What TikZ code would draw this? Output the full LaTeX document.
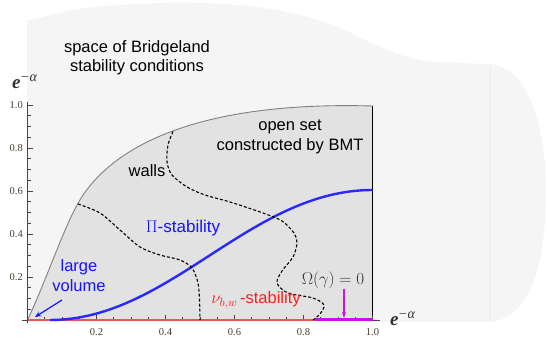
\documentclass[tikz,border=0pt]{standalone}
\usepackage{fix-cm}
\usepackage{fontspec}
\newfontfamily\sansf{Liberation Sans}
\newfontfamily\tickf{Liberation Serif}
\usetikzlibrary{arrows.meta}
\definecolor{blobgray}{RGB}{245,245,245}
\definecolor{seamgray}{RGB}{240,240,240}
\definecolor{regiongray}{RGB}{226,226,226}
\definecolor{bdgray}{RGB}{128,128,128}
\definecolor{axgray}{RGB}{70,70,70}
\definecolor{ticklab}{RGB}{75,62,45}
\definecolor{pblue}{RGB}{40,40,255}
\definecolor{tblue}{RGB}{20,20,255}
\definecolor{tred}{RGB}{255,30,30}
\definecolor{lred}{RGB}{225,90,90}
\definecolor{pmag}{RGB}{200,20,230}
\definecolor{mathgray}{RGB}{50,50,50}
\newcommand{\expalpha}{{\tickf\bfseries\itshape\fontsize{19}{20}\selectfont e}\raisebox{7.5pt}{\tickf\itshape\fontsize{14}{15}\selectfont \kern-0.5pt−α}}
\begin{document}
\begin{tikzpicture}[x=1pt,y=-1pt,
  lab/.style={font=\sansf\fontsize{16.5}{19}\selectfont, inner sep=0pt},
  ticklbl/.style={font=\tickf\fontsize{10.5}{12}\selectfont, text=ticklab, inner sep=0pt},
  mathlbl/.style={font=\fontsize{17}{20}\selectfont, inner sep=0pt},
  axlbl/.style={text=mathgray, inner sep=0pt},
  wall/.style={draw=black, line width=1.1pt, dash pattern=on 3pt off 2pt},
  axisline/.style={draw=axgray, line width=0.9pt},
  tickline/.style={draw=axgray, line width=0.7pt},
]
\useasboundingbox (0,0) rectangle (550,344);
\fill[white] (0,0) rectangle (550,344);
% background blob: space of Bridgeland stability conditions
\fill[blobgray] plot[smooth, tension=0.6] coordinates {(27,21) (80,9) (140,4) (200,3) (270,9) (330,24) (380,47) (420,60) (460,63) (490,64)}
  .. controls (530,68) and (546,130) .. (546,190)
  .. controls (546,260) and (532,318) .. (490,322)
  -- (27,322) -- cycle;
\draw[seamgray, line width=1.5pt] (490,65) -- (490,321);
% open set region
\fill[regiongray] (27.5,320) .. controls (45,283) and (62,233) .. (76,207)
  .. controls (96,168) and (160,100) .. (372.5,106) -- (372.5,320) -- cycle;
\draw[bdgray, line width=0.9pt] (27.5,320) .. controls (45,283) and (62,233) .. (76,207)
  .. controls (96,168) and (160,100) .. (372.5,106);
\draw[black, line width=1.2pt] (372.5,106) -- (372.5,320);
% axes
\draw[axisline] (27.5,102) -- (27.5,323);
\draw[axisline] (22,320) -- (380,320);
\foreach \i in {1,...,20} {
  \draw[tickline] (27.5,{320-10.75*\i}) -- ++(3,0);
  \draw[tickline] ({27.5+17.25*\i},320) -- ++(0,-3);
}
\foreach \v in {1,...,5} {
  \draw[tickline] (27.5,{320-43*\v}) -- ++(5,0);
  \draw[tickline] ({27.5+69*\v},320) -- ++(0,-5);
}
\foreach \v/\t in {1/0.2,2/0.4,3/0.6,4/0.8,5/1.0} {
  \node[ticklbl, anchor=east] (yl\v) at (23,{320-43*\v}) {\t};
  \node[ticklbl, anchor=north] (xl\v) at ({27.5+69*\v},328) {\t};
}
% stability lines on the axis
\draw[lred, line width=1.5pt] (27.5,320) -- (315,320);
\draw[pmag, line width=3pt] (315,320) -- (372.5,320);
% Pi-stability curve
\draw[pblue, line width=2.4pt] (50,320) .. controls (170,320) and (250,190) .. (372.5,190);
% walls
\draw[wall] plot[smooth] coordinates {(78,204) (100,213) (120,230) (140,247) (160,255) (180,260) (192,268) (198,283) (199.5,300) (200,320)};
\draw[wall] plot[smooth] coordinates {(173,131.5) (168,145) (167,162) (172,175) (187,187) (205,195) (230,202) (263,213) (282,221) (294,233) (297,243) (293,257) (282,271) (277,283) (288,293) (313,298) (324,305) (320,314) (313,320)};
% axis labels
\node[axlbl, anchor=base west] (ylab) at (12,89) {\expalpha};
\node[axlbl, anchor=base west] (xlab) at (390,326) {\expalpha};
% texts
\node[lab, anchor=base] (sp1) at (137,53) {space of Bridgeland};
\node[lab, anchor=base] (sp2) at (137,72) {stability conditions};
\node[lab, anchor=base] (os1) at (290,131) {open set};
\node[lab, anchor=base] (os2) at (290,151) {constructed by BMT};
\node[lab, anchor=base] (walls) at (147,177) {walls};
\node[lab, anchor=base, text=tblue] (pist) at (183,233) {\fontsize{17}{20}\selectfont$\Pi$\sansf-stability};
\node[lab, anchor=base, text=tblue] (lv1) at (79,272) {large};
\node[lab, anchor=base, text=tblue] (lv2) at (79,292) {volume};
\node[lab, anchor=base, text=tred] (nust) at (256,304) {\fontsize{17}{20}\selectfont$\nu_{b,w}$\sansf\fontsize{16.5}{19}\selectfont\,-stability};
\node[mathlbl, text=mathgray, anchor=base] (omega) at (333,285) {$\Omega(\gamma)=0$};
% arrows
\coordinate (lvtip) at (35,317);
\coordinate (omtip) at (344,318);
\draw[tblue, line width=1.2pt, -{Stealth[length=6pt,width=5pt]}] (62,300) -- (lvtip);
\draw[pmag, line width=1.2pt, -{Stealth[length=6pt,width=4pt]}] (344,289) -- (omtip);
\end{tikzpicture}
\end{document}
